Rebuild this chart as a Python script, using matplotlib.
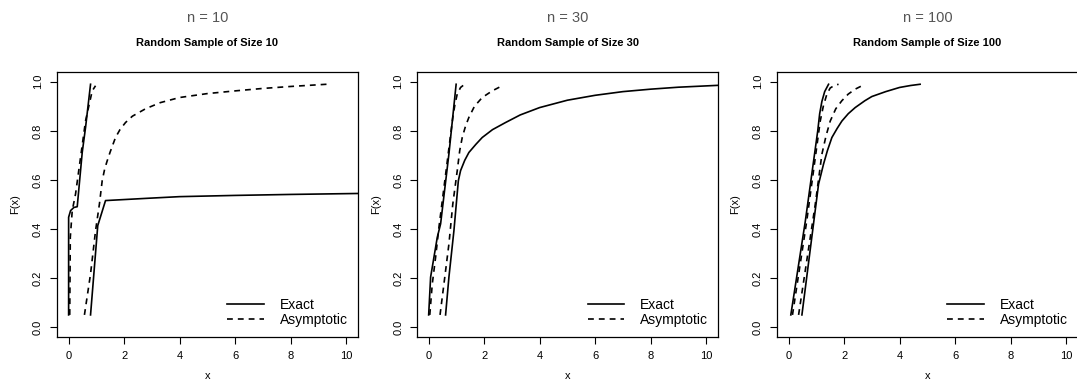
import numpy as np
import matplotlib.pyplot as plt

plt.rcParams['font.family'] = ['Liberation Sans', 'DejaVu Sans']

sizes = [10, 30, 100]
top_labels = ['n = 10', 'n = 30', 'n = 100']
titles = ['Random Sample of Size 10', 'Random Sample of Size 30', 'Random Sample of Size 100']

# n = 10
exact1_x = [0.0, 0.0, 0.07, 0.19, 0.31, 0.49, 0.61, 0.79]
exact1_y = [0.05, 0.448, 0.475, 0.488, 0.491, 0.712, 0.814, 0.99]
asym1_x = [0.04, 0.05, 0.06, 0.13, 0.25, 0.43, 0.61, 0.85, 0.97]
asym1_y = [0.05, 0.2, 0.366, 0.475, 0.543, 0.692, 0.841, 0.963, 0.984]
exact2_x = [0.79, 1.05, 1.33, 2.8, 4.0, 6.0, 8.0, 10.5]
exact2_y = [0.05, 0.414, 0.516, 0.525, 0.532, 0.537, 0.541, 0.545]
asym2_x = [0.57, 0.79, 0.97, 1.11, 1.21, 1.3, 1.39, 1.5, 1.69, 1.85, 2.05, 2.3, 2.77,
           3.3, 4.0, 5.0, 6.0, 7.0, 8.0, 9.3]
asym2_y = [0.05, 0.217, 0.393, 0.502, 0.597, 0.645, 0.678, 0.715, 0.773, 0.805, 0.834,
           0.86, 0.89, 0.915, 0.936, 0.952, 0.963, 0.973, 0.981, 0.99]

# n = 30
exact3_x = [0.0, 0.07, 0.19, 0.31, 0.43, 0.73, 0.99]
exact3_y = [0.05, 0.204, 0.285, 0.366, 0.421, 0.706, 0.99]
asym3_x = [0.04, 0.13, 0.25, 0.37, 0.87, 0.95, 1.03, 1.15, 1.33]
asym3_y = [0.05, 0.176, 0.285, 0.407, 0.855, 0.91, 0.95, 0.977, 0.993]
exact4_x = [0.61, 0.73, 0.91, 1.07, 1.15, 1.3, 1.45, 1.7, 1.93, 2.3, 2.77, 3.3, 4.0,
            5.0, 6.0, 7.0, 8.0, 9.0, 10.5]
exact4_y = [0.05, 0.204, 0.393, 0.597, 0.638, 0.68, 0.712, 0.745, 0.773, 0.805, 0.834,
            0.865, 0.895, 0.925, 0.945, 0.96, 0.97, 0.978, 0.986]
asym4_x = [0.41, 0.55, 0.73, 0.87, 1.03, 1.12, 1.21, 1.33, 1.45, 1.65, 1.93, 2.29, 2.65]
asym4_y = [0.05, 0.176, 0.339, 0.502, 0.638, 0.72, 0.773, 0.82, 0.855, 0.9, 0.936, 0.963, 0.984]

# n = 100
exact5_x = [0.08, 0.6, 1.05, 1.12, 1.2, 1.3, 1.44]
exact5_y = [0.05, 0.43, 0.80, 0.87, 0.92, 0.96, 0.99]
asym5_x = [0.14, 0.65, 1.14, 1.25, 1.38, 1.5, 1.65, 1.8]
asym5_y = [0.05, 0.43, 0.84, 0.9, 0.95, 0.975, 0.985, 0.99]
exact6_x = [0.48, 1.08, 1.26, 1.4, 1.56, 1.75, 1.92, 2.15, 2.4, 2.75, 3.0, 3.5, 4.0, 4.4, 4.74]
exact6_y = [0.05, 0.583, 0.665, 0.72, 0.773, 0.81, 0.84, 0.87, 0.895, 0.923, 0.94, 0.96,
            0.977, 0.985, 0.99]
asym6_x = [0.36, 0.6, 0.96, 1.2, 1.35, 1.5, 1.7, 1.92, 2.15, 2.4, 2.75]
asym6_y = [0.05, 0.23, 0.50, 0.705, 0.78, 0.84, 0.89, 0.923, 0.95, 0.97, 0.99]

panels = [
    [(exact1_x, exact1_y), (asym1_x, asym1_y), (exact2_x, exact2_y), (asym2_x, asym2_y)],
    [(exact3_x, exact3_y), (asym3_x, asym3_y), (exact4_x, exact4_y), (asym4_x, asym4_y)],
    [(exact5_x, exact5_y), (asym5_x, asym5_y), (exact6_x, exact6_y), (asym6_x, asym6_y)],
]

fig = plt.figure(figsize=(10.77, 3.85), dpi=100)
lefts = [0.0529, 0.3872, 0.7214]
dash = (0, (3.5, 3))
for i in range(3):
    ax = fig.add_axes([lefts[i], 0.1247, 0.2795, 0.6883])
    (ex_a, asy_a, ex_b, asy_b) = panels[i]
    ax.plot(ex_a[0], ex_a[1], color='black', lw=1.2, label='Exact')
    ax.plot(asy_a[0], asy_a[1], color='black', lw=1.2, ls=dash, label='Asymptotic')
    ax.plot(ex_b[0], ex_b[1], color='black', lw=1.2)
    ax.plot(asy_b[0], asy_b[1], color='black', lw=1.2, ls=dash)
    ax.set_xlim(-0.42, 10.43)
    ax.set_ylim(-0.04, 1.04)
    ax.set_xticks([0, 2, 4, 6, 8, 10])
    ax.set_yticks([0.0, 0.2, 0.4, 0.6, 0.8, 1.0])
    ax.set_yticklabels(['0.0', '0.2', '0.4', '0.6', '0.8', '1.0'], rotation=90, va='center')
    ax.tick_params(labelsize=8, length=5, width=0.8, pad=5)
    for s in ax.spines.values():
        s.set_linewidth(0.9)
    ax.set_xlabel('x', fontsize=8, labelpad=7)
    ax.set_ylabel('F(x)', fontsize=8, labelpad=9)
    ax.set_title(titles[i], fontsize=8, fontweight='bold', pad=19)
    ax.text(0.5, 1.205, top_labels[i], transform=ax.transAxes, ha='center', va='center',
            fontsize=10.5, color='#555555')
    ax.legend(loc='lower right', frameon=False, fontsize=10, handlelength=2.6,
              labelspacing=0.1, borderaxespad=0.3, handletextpad=1.2)

fig.savefig('out.png', dpi=100)
